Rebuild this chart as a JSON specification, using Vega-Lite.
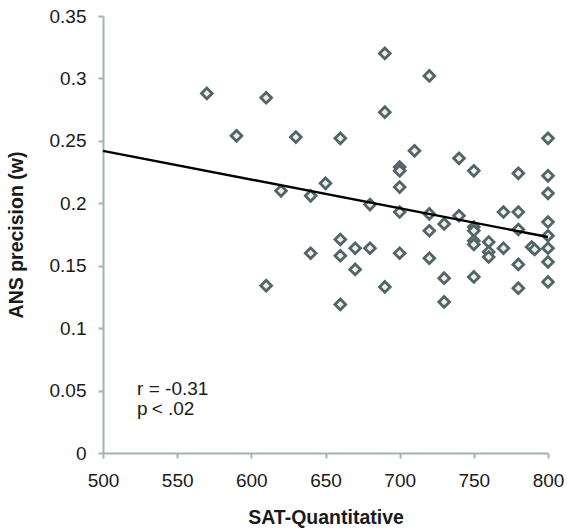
{
  "$schema": "https://vega.github.io/schema/vega-lite/v6.json",
  "width": 445,
  "height": 437,
  "autosize": {"type": "none"},
  "padding": {"left": 103, "top": 16, "right": 19, "bottom": 76},
  "background": "white",
  "config": {
    "view": {"stroke": null},
    "font": "Liberation Sans",
    "axis": {
      "grid": false,
      "labelFlush": false,
      "domainColor": "#a3b2b2",
      "domainWidth": 2,
      "tickColor": "#a3b2b2",
      "tickWidth": 2,
      "tickSize": 5,
      "labelFont": "Liberation Sans",
      "labelFontSize": 19,
      "labelColor": "#1a1a1a",
      "titleFont": "Liberation Sans",
      "titleFontSize": 19.5,
      "titleFontWeight": "bold",
      "titleColor": "#1a1a1a"
    }
  },
  "datasets": {
    "points": [
      {"sat": 570, "w": 0.288},
      {"sat": 590, "w": 0.254},
      {"sat": 610, "w": 0.2845},
      {"sat": 610, "w": 0.134},
      {"sat": 620, "w": 0.21},
      {"sat": 630, "w": 0.253},
      {"sat": 640, "w": 0.206},
      {"sat": 640, "w": 0.16},
      {"sat": 650, "w": 0.216},
      {"sat": 660, "w": 0.252},
      {"sat": 660, "w": 0.171},
      {"sat": 660, "w": 0.158},
      {"sat": 660, "w": 0.119},
      {"sat": 670, "w": 0.164},
      {"sat": 670, "w": 0.147},
      {"sat": 680, "w": 0.199},
      {"sat": 680, "w": 0.164},
      {"sat": 690, "w": 0.32},
      {"sat": 690, "w": 0.273},
      {"sat": 690, "w": 0.133},
      {"sat": 700, "w": 0.229},
      {"sat": 700, "w": 0.226},
      {"sat": 700, "w": 0.213},
      {"sat": 700, "w": 0.193},
      {"sat": 700, "w": 0.16},
      {"sat": 710, "w": 0.242},
      {"sat": 720, "w": 0.302},
      {"sat": 720, "w": 0.1915},
      {"sat": 720, "w": 0.178},
      {"sat": 720, "w": 0.156},
      {"sat": 730, "w": 0.1835},
      {"sat": 730, "w": 0.14},
      {"sat": 730, "w": 0.121},
      {"sat": 740, "w": 0.236},
      {"sat": 740, "w": 0.19},
      {"sat": 750, "w": 0.226},
      {"sat": 750, "w": 0.181},
      {"sat": 750, "w": 0.178},
      {"sat": 750, "w": 0.17},
      {"sat": 750, "w": 0.167},
      {"sat": 750, "w": 0.141},
      {"sat": 760, "w": 0.169},
      {"sat": 760, "w": 0.161},
      {"sat": 760, "w": 0.157},
      {"sat": 770, "w": 0.193},
      {"sat": 770, "w": 0.164},
      {"sat": 780, "w": 0.224},
      {"sat": 780, "w": 0.193},
      {"sat": 780, "w": 0.179},
      {"sat": 780, "w": 0.151},
      {"sat": 780, "w": 0.132},
      {"sat": 789, "w": 0.165},
      {"sat": 791, "w": 0.163},
      {"sat": 800, "w": 0.252},
      {"sat": 800, "w": 0.222},
      {"sat": 800, "w": 0.208},
      {"sat": 800, "w": 0.185},
      {"sat": 800, "w": 0.174},
      {"sat": 800, "w": 0.164},
      {"sat": 800, "w": 0.153},
      {"sat": 800, "w": 0.137}
    ],
    "fit": [
      {"sat": 500, "w": 0.242},
      {"sat": 800, "w": 0.173}
    ],
    "notes": [
      {"sat": 523, "w": 0.0465, "label": "r = -0.31", "style": "normal"},
      {"sat": 523, "w": 0.0305, "label": "p", "style": "italic"},
      {"sat": 532.8, "w": 0.0305, "label": "< .02", "style": "normal"}
    ]
  },
  "layer": [
    {
      "data": {"name": "points"},
      "mark": {"type": "point", "shape": "diamond", "size": 115, "filled": false, "fill": "#eaf0f0", "fillOpacity": 1, "stroke": "#536464", "strokeWidth": 2.8, "opacity": 1},
      "encoding": {
        "x": {
          "field": "sat", "type": "quantitative",
          "scale": {"domain": [500, 800], "nice": false, "zero": false},
          "axis": {"title": "SAT-Quantitative", "values": [500, 550, 600, 650, 700, 750, 800], "labelPadding": 13, "titlePadding": 18}
        },
        "y": {
          "field": "w", "type": "quantitative",
          "scale": {"domain": [0, 0.35], "nice": false},
          "axis": {"title": "ANS precision (w)", "values": [0, 0.05, 0.1, 0.15, 0.2, 0.25, 0.3, 0.35], "labelExpr": "format(datum.value, '.2~f')", "labelPadding": 12, "titlePadding": 23}
        }
      }
    },
    {
      "data": {"name": "fit"},
      "mark": {"type": "line", "color": "#000000", "strokeWidth": 2.4},
      "encoding": {
        "x": {"field": "sat", "type": "quantitative"},
        "y": {"field": "w", "type": "quantitative"}
      }
    },
    {
      "data": {"name": "notes"},
      "mark": {"type": "text", "align": "left", "baseline": "alphabetic", "fontSize": 19, "font": "Liberation Sans", "color": "#1a1a1a"},
      "encoding": {
        "x": {"field": "sat", "type": "quantitative"},
        "y": {"field": "w", "type": "quantitative"},
        "text": {"field": "label"},
        "fontStyle": {"field": "style", "type": "nominal", "scale": null}
      }
    }
  ]
}
